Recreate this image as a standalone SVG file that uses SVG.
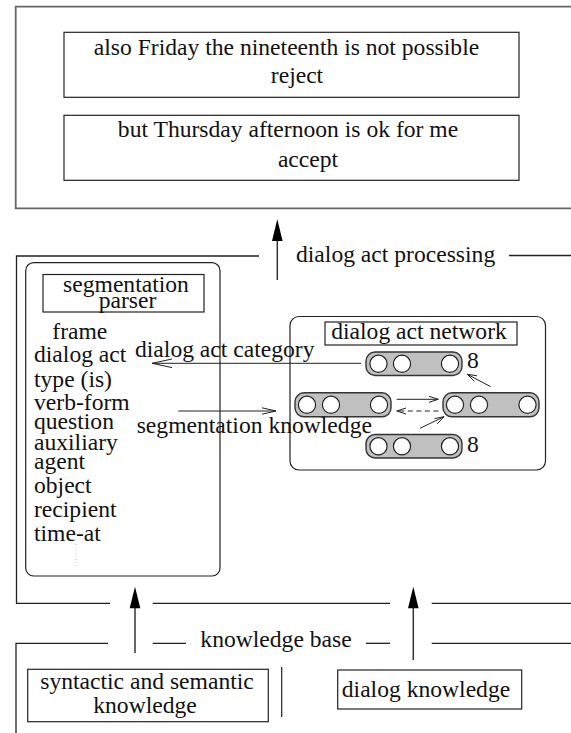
<svg xmlns="http://www.w3.org/2000/svg" width="571" height="733" viewBox="0 0 571 733">
<style>
text{font-family:'Liberation Serif','Times New Roman','DejaVu Serif',serif;font-size:23.6px;fill:#111}
.m{text-anchor:middle}
.box{fill:#fff;stroke:#222;stroke-width:1.2}
.frame{fill:none;stroke:#222;stroke-width:1.3}
.frameg{fill:none;stroke:#666;stroke-width:1.8}
.ln{fill:none;stroke:#222;stroke-width:1.2}
.arr{fill:none;stroke:#333;stroke-width:1.5}
.head{fill:#000;stroke:none}
.pill{fill:#c0c0c0;stroke:#333;stroke-width:1.4}
.cir{fill:#fff;stroke:#222;stroke-width:1.2}
.thin{fill:none;stroke:#222;stroke-width:1}
</style>
<rect width="571" height="733" fill="#fff"/>
<g font-family="Liberation Serif, Times New Roman, DejaVu Serif, serif">

<g id="frame-top">
<path class="frameg" d="M571,6.7 H15.7 V208.3 H571"/>
</g>
<g id="utterance1">
<rect class="box" x="64" y="32.3" width="455" height="65"/>
<text class="m" x="286.5" y="55">also Friday the nineteenth is not possible</text>
<text class="m" x="297" y="83">reject</text>
</g>
<g id="utterance2">
<rect class="box" x="64" y="115.3" width="455" height="65"/>
<text class="m" x="288" y="137">but Thursday afternoon is ok for me</text>
<text class="m" x="308" y="167">accept</text>
</g>

<g id="frame-middle">
<path class="frame" d="M259,256 H16.5 V603.3 H110"/>
<path class="frame" d="M152.7,603.3 H390"/>
<path class="frame" d="M431.7,603.3 H571"/>
<path class="frame" d="M509,255.5 H571"/>
<text x="296" y="262">dialog act processing</text>
</g>

<g id="segmentation-parser">
<rect class="box" x="25.7" y="262.7" width="194.3" height="313.3" rx="8"/>
<rect class="box" x="43" y="274.5" width="161" height="37.5"/>
<text class="m" x="126" y="291.7">segmentation</text>
<text class="m" x="127.5" y="308.3">parser</text>
<text x="52.3" y="339">frame</text>
<text x="34" y="362">dialog act</text>
<text x="34" y="386.5">type (is)</text>
<text x="34" y="409.5">verb-form</text>
<text x="34" y="428.5">question</text>
<text x="34" y="450">auxiliary</text>
<text x="34" y="469">agent</text>
<text x="34" y="493">object</text>
<text x="34" y="517">recipient</text>
<text x="34" y="540.5">time-at</text>
<line x1="75.7" y1="544" x2="75.7" y2="566" stroke="#ccc" stroke-width="1" stroke-dasharray="1,2"/>
</g>

<g id="dialog-act-network">
<rect class="box" x="290" y="316.5" width="255.5" height="153.5" rx="9"/>
<rect class="box" x="325" y="322" width="192" height="23"/>
<text class="m" x="419" y="339.3">dialog act network</text>
<g id="layer1">
<rect class="pill" x="366" y="352" width="96" height="23.5" rx="9"/>
<circle class="cir" cx="378.5" cy="363.8" r="8.6"/>
<circle class="cir" cx="402" cy="363.8" r="8.6"/>
<circle class="cir" cx="450" cy="363.8" r="8.6"/>
<text x="467" y="368.3">8</text>
</g>
<g id="layer2">
<rect class="pill" x="295" y="392.8" width="96" height="24" rx="9"/>
<circle class="cir" cx="307" cy="404.8" r="8.6"/>
<circle class="cir" cx="331" cy="404.8" r="8.6"/>
<circle class="cir" cx="379" cy="404.8" r="8.6"/>
</g>
<g id="layer3">
<rect class="pill" x="443" y="392.8" width="96" height="24" rx="9"/>
<circle class="cir" cx="455" cy="404.8" r="8.6"/>
<circle class="cir" cx="479" cy="404.8" r="8.6"/>
<circle class="cir" cx="527.5" cy="404.8" r="8.6"/>
</g>
<g id="layer4">
<rect class="pill" x="366" y="434.5" width="96" height="23.5" rx="9"/>
<circle class="cir" cx="378.5" cy="446.3" r="8.6"/>
<circle class="cir" cx="402" cy="446.3" r="8.6"/>
<circle class="cir" cx="450" cy="446.3" r="8.6"/>
<text x="467" y="451.7">8</text>
</g>
</g>

<g id="frame-knowledge">
<path class="frame" d="M108,643.3 H16 V733"/>
<path class="frame" d="M152.7,643.3 H186"/>
<path class="frame" d="M366,643.3 H390"/>
<path class="frame" d="M431.7,643.3 H571"/>
<text class="m" x="276" y="647">knowledge base</text>
<line class="ln" x1="281.7" y1="667" x2="281.7" y2="717"/>
</g>
<g id="syntactic-semantic-knowledge">
<rect class="box" x="27.7" y="669.3" width="240.6" height="52.4"/>
<text class="m" x="147" y="689">syntactic and semantic</text>
<text class="m" x="145" y="713">knowledge</text>
</g>
<g id="dialog-knowledge">
<rect class="box" x="337.7" y="670" width="184" height="39"/>
<text class="m" x="426" y="697">dialog knowledge</text>
</g>

<g id="connectors">
<line class="arr" x1="277.3" y1="280" x2="277.3" y2="238"/>
<path class="head" d="M277.3,219.3 L282.6,241 L272,241 Z"/>
<line class="arr" x1="135" y1="653" x2="135" y2="605"/>
<path class="head" d="M135,586.7 L140.3,608.3 L129.7,608.3 Z"/>
<line class="arr" x1="413.3" y1="660" x2="413.3" y2="605"/>
<path class="head" d="M413.3,586.7 L418.6,608.3 L408,608.3 Z"/>

<line class="thin" x1="361" y1="363.3" x2="152" y2="363.3"/>
<path class="thin" d="M172,359 L152,363.3 L172,367.6"/>
<text x="135" y="357">dialog act category</text>

<line class="thin" x1="178.3" y1="411" x2="276" y2="411"/>
<path class="thin" d="M262,407.8 L276,411 L262,414.2"/>
<text x="136.7" y="433.3">segmentation knowledge</text>

<line class="thin" x1="396.7" y1="399.3" x2="438.3" y2="399.3"/>
<path class="thin" d="M429,396.3 L438.3,399.3 L429,402.3"/>
<line class="thin" x1="438.3" y1="411" x2="397" y2="411" stroke-dasharray="5,3.5"/>
<path class="thin" d="M406,408 L396.7,411 L406,414"/>
<line class="thin" x1="420" y1="428.3" x2="444" y2="416.7"/>
<path class="thin" d="M434.5,418.6 L444,416.7 L437.3,423.8"/>
<line class="thin" x1="490.7" y1="386.7" x2="467.3" y2="374.3"/>
<path class="thin" d="M474.3,381.3 L467.3,374.3 L477,375.8"/>
</g>
</g>
</svg>
